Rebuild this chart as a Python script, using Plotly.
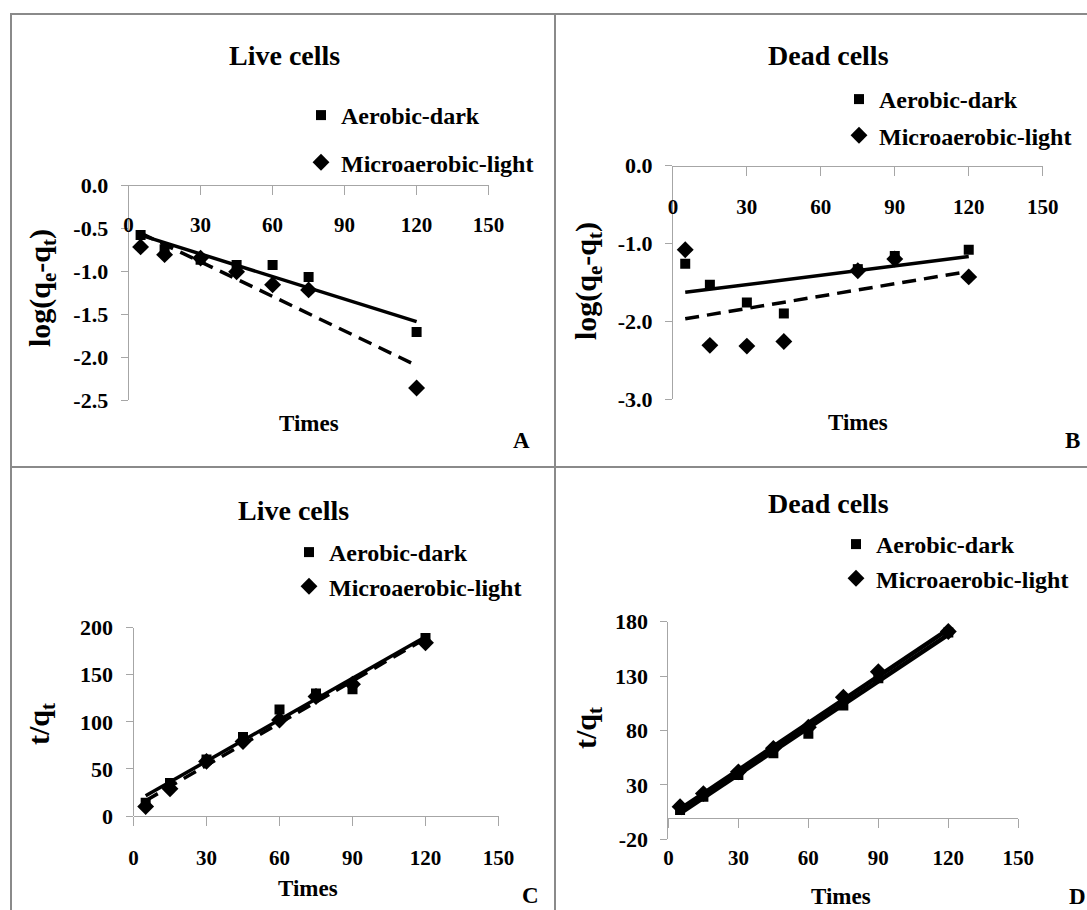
import numpy as np
import plotly.graph_objects as go

# ---------------- data ----------------
time_A = [5, 15, 30, 45, 60, 75, 120]
A_aerobic_dark = [-0.58, -0.75, -0.87, -0.93, -0.93, -1.07, -1.71]
A_micro_light = [-0.72, -0.81, -0.85, -1.01, -1.16, -1.22, -2.36]

time_B = [5, 15, 30, 45, 75, 90, 120]
B_aerobic_dark = [-1.26, -1.53, -1.76, -1.90, -1.33, -1.16, -1.08]
B_micro_light = [-1.08, -2.31, -2.32, -2.26, -1.35, -1.20, -1.43]

time_CD = [5, 15, 30, 45, 60, 75, 90, 120]
C_aerobic_dark = [14, 35, 60, 84, 113, 130, 134.5, 189]
C_micro_light = [10, 29, 58, 79, 102, 127, 140, 184]
D_aerobic_dark = [7, 19, 39, 59, 77, 103, 128, 170]
D_micro_light = [10, 22, 42, 63.6, 83, 110.5, 134, 171]

series_names = ["Aerobic-dark", "Microaerobic-light"]
panel_titles = ["Live cells", "Dead cells", "Live cells", "Dead cells"]
panel_letters = ["A", "B", "C", "D"]
x_title = "Times"
y_titles = ["log(q<sub>e</sub>-q<sub>t</sub>)", "log(q<sub>e</sub>-q<sub>t</sub>)",
            "t/q<sub>t</sub>", "t/q<sub>t</sub>"]

x_tickvals = [0, 30, 60, 90, 120, 150]
x_ticktext = ["0", "30", "60", "90", "120", "150"]
A_tickvals = [0, -0.5, -1.0, -1.5, -2.0, -2.5]
A_ticktext = ["0.0", "-0.5", "-1.0", "-1.5", "-2.0", "-2.5"]
B_tickvals = [0, -1.0, -2.0, -3.0]
B_ticktext = ["0.0", "-1.0", "-2.0", "-3.0"]
C_tickvals = [0, 50, 100, 150, 200]
C_ticktext = ["0", "50", "100", "150", "200"]
D_tickvals = [-20, 30, 80, 130, 180]
D_ticktext = ["-20", "30", "80", "130", "180"]

# ---------------- layout helpers ----------------
W, H = 1087, 910
FONT = "Liberation Serif, Times New Roman, serif"
AXC = "#a6a6a6"
BORDER = "#8a8a8a"


def px(x):
    return x / W


def py(y):
    return 1 - y / H


panels = [
    dict(time_d=time_A, time_m=time_A, d=A_aerobic_dark, m=A_micro_light,
         xd=(128.6, 488.6), yd=(185, 400), yr=[-2.5, 0], tv=A_tickvals, tt=A_ticktext,
         xline=185, xlab=210, title=(284, 55), ytitle=(42, 288), xt=(309, 423),
         letter=(521, 440), leg=(301, 93), gap=13, mdash="14px,8px", lw=3.5),
    dict(time_d=time_B, time_m=time_B, d=B_aerobic_dark, m=B_micro_light,
         xd=(672.9, 1042.7), yd=(165.7, 399), yr=[-3, 0], tv=B_tickvals, tt=B_ticktext,
         xline=165.7, xlab=192, title=(828, 55), ytitle=(588, 281), xt=(858, 422),
         letter=(1072, 440), leg=(839, 77), gap=2, mdash="14px,8px", lw=3.5),
    dict(time_d=time_CD, time_m=time_CD, d=C_aerobic_dark, m=C_micro_light,
         xd=(133.5, 498.5), yd=(627.7, 816), yr=[0, 200], tv=C_tickvals, tt=C_ticktext,
         xline=816, xlab=843, title=(293, 510), ytitle=(41, 724), xt=(308, 888),
         letter=(530, 895), leg=(289, 530), gap=0, mdash="14px,8px", lw=3.5),
    dict(time_d=time_CD, time_m=time_CD, d=D_aerobic_dark, m=D_micro_light,
         xd=(668.4, 1018.3), yd=(621.7, 839.3), yr=[-20, 180], tv=D_tickvals, tt=D_ticktext,
         xline=817.5, xlab=843, title=(828, 503), ytitle=(588, 728), xt=(841, 896),
         letter=(1077, 896), leg=(836, 522), gap=0, mdash="solid", lw=4.5),
]

fig = go.Figure()
layout = dict(
    width=W, height=H, margin=dict(l=0, r=0, t=0, b=0, autoexpand=False),
    paper_bgcolor="white", plot_bgcolor="white",
    font=dict(family=FONT, color="black", size=22, weight="bold"),
    annotations=[], shapes=[],
)

for i, p in enumerate(panels):
    n = i + 1
    xa = "x" if n == 1 else f"x{n}"
    ya = "y" if n == 1 else f"y{n}"
    xkey = "xaxis" if n == 1 else f"xaxis{n}"
    ykey = "yaxis" if n == 1 else f"yaxis{n}"
    lab_n = n + 4
    labx = f"x{lab_n}"
    labkey = f"xaxis{lab_n}"
    legkey = "legend" if n == 1 else f"legend{n}"

    # trend lines (linear least-squares fits of each series)
    for xs, ys, dash in ((p["time_m"], p["m"], p["mdash"]), (p["time_d"], p["d"], "solid")):
        k, b = np.polyfit(xs, ys, 1)
        xx = np.array([min(xs), max(xs)])
        fig.add_trace(go.Scatter(x=xx, y=k * xx + b, mode="lines", xaxis=xa, yaxis=ya,
                                 line=dict(color="black", width=p["lw"], dash=dash),
                                 showlegend=False, hoverinfo="skip"))
    # markers
    fig.add_trace(go.Scatter(x=p["time_d"], y=p["d"], mode="markers", name=series_names[0],
                             xaxis=xa, yaxis=ya, legend=legkey, legendgroup=f"{n}a",
                             marker=dict(symbol="square", size=10, color="black")))
    fig.add_trace(go.Scatter(x=p["time_m"], y=p["m"], mode="markers", name=series_names[1],
                             xaxis=xa, yaxis=ya, legend=legkey, legendgroup=f"{n}b",
                             marker=dict(symbol="diamond", size=13, color="black")))
    # transparent helper so the tick-label axis belongs to a subplot and is drawn
    fig.add_trace(go.Scatter(x=p["time_d"], y=p["d"], mode="markers", xaxis=labx, yaxis=ya,
                             marker=dict(size=1, color="rgba(0,0,0,0)"),
                             showlegend=False, hoverinfo="skip"))

    dom_x = [px(p["xd"][0]), px(p["xd"][1])]
    dom_y = [py(p["yd"][1]), py(p["yd"][0])]
    layout[xkey] = dict(domain=dom_x, range=[0, 150], anchor="free", position=py(p["xline"]),
                        side="bottom", showline=True, linecolor=AXC, linewidth=1,
                        ticks="outside", ticklen=9, tickcolor=AXC, tickwidth=1,
                        tickvals=x_tickvals, showticklabels=False, automargin=False,
                        showgrid=False, zeroline=False)
    layout[labkey] = dict(domain=dom_x, range=[0, 150], anchor="free", position=py(p["xlab"]),
                          overlaying=xa, side="bottom", showline=False, ticks="",
                          tickvals=x_tickvals, ticktext=x_ticktext, automargin=False,
                          tickfont=dict(family=FONT, size=21, color="black", weight="bold"),
                          showgrid=False, zeroline=False)
    layout[ykey] = dict(domain=dom_y, range=p["yr"], anchor=xa, showline=True,
                        linecolor=AXC, linewidth=1, ticks="outside", ticklen=7,
                        tickcolor=AXC, tickwidth=1, tickvals=p["tv"], ticktext=p["tt"],
                        ticklabelstandoff=8, automargin=False,
                        tickfont=dict(family=FONT, size=22, color="black", weight="bold"),
                        showgrid=False, zeroline=False)
    layout[legkey] = dict(x=px(p["leg"][0]), y=py(p["leg"][1]), xanchor="left", yanchor="top",
                          bgcolor="rgba(0,0,0,0)", tracegroupgap=p["gap"],
                          font=dict(family=FONT, size=24, color="black", weight="bold"))

    ann = layout["annotations"]
    ann.append(dict(text=panel_titles[i], x=px(p["title"][0]), y=py(p["title"][1]),
                    xref="paper", yref="paper", showarrow=False, xanchor="center",
                    yanchor="middle", font=dict(family=FONT, size=28, weight="bold")))
    ann.append(dict(text=y_titles[i], x=px(p["ytitle"][0]), y=py(p["ytitle"][1]),
                    xref="paper", yref="paper", showarrow=False, textangle=-90,
                    xanchor="center", yanchor="middle",
                    font=dict(family=FONT, size=30, weight="bold")))
    ann.append(dict(text=x_title, x=px(p["xt"][0]), y=py(p["xt"][1]),
                    xref="paper", yref="paper", showarrow=False, xanchor="center",
                    yanchor="middle", font=dict(family=FONT, size=23, weight="bold")))
    ann.append(dict(text=panel_letters[i], x=px(p["letter"][0]), y=py(p["letter"][1]),
                    xref="paper", yref="paper", showarrow=False, xanchor="center",
                    yanchor="middle", font=dict(family=FONT, size=23, weight="bold")))

# panel frame lines
frame = [
    (10, 14, W, 14),
    (11, 14, 11, H),
    (555, 14, 555, H),
    (11, 467, W, 467),
]
for x0, y0, x1, y1 in frame:
    layout["shapes"].append(dict(type="line", xref="paper", yref="paper",
                                 x0=px(x0), y0=py(y0), x1=px(x1), y1=py(y1),
                                 line=dict(color=BORDER, width=2)))

fig.update_layout(**layout)
fig.write_html("out.html")
